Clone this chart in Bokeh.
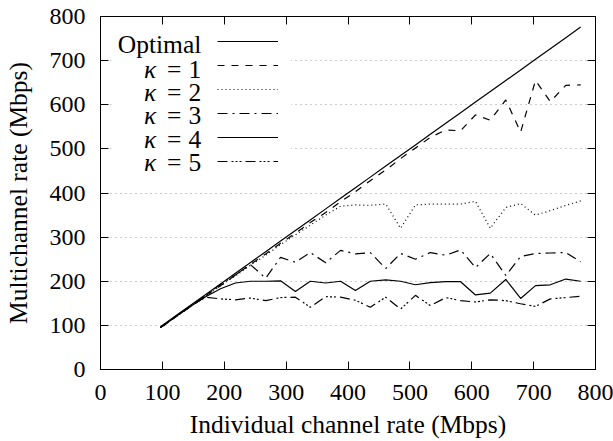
from bokeh.plotting import figure
from bokeh.models import (LinearAxis, FixedTicker, Legend, LegendItem, Label,
                          BoxAnnotation, Range1d)
from bokeh.embed import file_html
from bokeh.resources import INLINE

# ---------------- data ----------------
rate = [97, 121, 145, 170, 194, 218, 242, 267, 291, 315, 339, 364, 388, 412, 436,
        461, 485, 509, 533, 558, 582, 606, 630, 655, 679, 703, 727, 752, 776]
optimal = [97, 121, 145, 170, 194, 218, 242, 267, 291, 315, 339, 364, 388, 412, 436,
           461, 485, 509, 533, 558, 582, 606, 630, 655, 679, 703, 727, 752, 776]
kappa1 = [95, 119, 142, 167, 190, 214, 238, 262, 286, 309, 333, 356, 380, 403, 428,
          452, 478, 502, 526, 543, 541, 577, 565, 611, 538, 655, 607, 644, 645]
kappa2 = [95, 119, 142, 166, 190, 212, 236, 259, 283, 305, 327, 350, 370, 373, 372,
          375, 320, 373, 375, 375, 375, 381, 320, 367, 376, 350, 360, 372, 382]
kappa3 = [95, 119, 143, 168, 193, 214, 238, 207, 254, 243, 265, 242, 270, 262, 265,
          229, 263, 250, 265, 259, 271, 231, 263, 213, 256, 263, 264, 265, 244]
kappa4 = [95, 119, 143, 165, 183, 196, 200, 200, 201, 177, 200, 196, 200, 179, 200,
          203, 200, 192, 197, 199, 199, 169, 173, 204, 161, 190, 192, 205, 200]
kappa5 = [95, 119, 143, 164, 160, 158, 162, 156, 163, 164, 141, 165, 164, 157, 141,
          164, 137, 168, 145, 163, 156, 153, 158, 156, 149, 143, 160, 163, 166]

series_names = ["Optimal", "1", "2", "3", "4", "5"]
series_values = [optimal, kappa1, kappa2, kappa3, kappa4, kappa5]
dashes = ["solid", "7 7", "1 3", "10 5 2 5", "solid", "10 4 2 2 2 2 2 4"]

ticks = [0, 100, 200, 300, 400, 500, 600, 700, 800]

FONT = "Liberation Serif"

p = figure(width=613, height=441, output_backend="svg", toolbar_location=None,
           x_range=Range1d(0, 800), y_range=Range1d(0, 800),
           min_border_left=99, min_border_right=18, min_border_top=16,
           min_border_bottom=70)
p.background_fill_color = "white"
p.border_fill_color = "white"
p.outline_line_color = "black"
p.outline_line_width = 1

# grid
p.xgrid.visible = False
p.ygrid.ticker = FixedTicker(ticks=ticks[1:-1])
p.ygrid.grid_line_color = "#9a9a9a"
p.ygrid.grid_line_dash = "1 4"
p.ygrid.grid_line_width = 1

def style_axis(ax, labels=True):
    ax.ticker = FixedTicker(ticks=ticks)
    ax.major_tick_in = 8
    ax.major_tick_out = 0
    ax.minor_tick_line_color = None
    ax.axis_line_color = "black"
    ax.major_tick_line_color = "black"
    if labels:
        ax.major_label_text_font = FONT
        ax.major_label_text_font_size = "24px"
        ax.major_label_text_color = "black"
        ax.axis_label_text_font = FONT
        ax.axis_label_text_font_size = "25.5px"
        ax.axis_label_text_font_style = "normal"
        ax.axis_label_text_color = "black"
    else:
        ax.major_label_text_font_size = "0px"
        ax.major_label_text_color = None
        ax.major_label_standoff = 0

style_axis(p.xaxis[0])
style_axis(p.yaxis[0])
p.xaxis[0].axis_label = "Individual channel rate (Mbps)"
p.yaxis[0].axis_label = "Multichannel rate (Mbps)"
p.xaxis[0].major_label_standoff = 15
p.xaxis[0].axis_label_standoff = 7
p.yaxis[0].major_label_standoff = 15
p.yaxis[0].axis_label_standoff = 14

top_ax = LinearAxis()
right_ax = LinearAxis()
style_axis(top_ax, labels=False)
style_axis(right_ax, labels=False)
p.add_layout(top_ax, "above")
p.add_layout(right_ax, "right")

# lines
renderers = []
for vals, dash in zip(series_values, dashes):
    r = p.line(rate, vals, line_color="black", line_width=1.2, line_dash=dash)
    renderers.append(r)

# white legend box (gnuplot opaque key)
box = BoxAnnotation(left=18, right=308, top=772, bottom=436,
                    fill_color="white", fill_alpha=1.0, line_color=None,
                    level="annotation")
p.add_layout(box)

# legend samples (Bokeh legend, labels on the left drawn separately)
legend = Legend(items=[LegendItem(label=" ", renderers=[r]) for r in renderers],
                location=(117, 198), padding=0, margin=0, spacing=4,
                glyph_width=61, glyph_height=20, label_height=20,
                label_width=0, label_standoff=0,
                background_fill_alpha=0, border_line_color=None,
                label_text_font_size="10px")
p.add_layout(legend)

# legend texts, right-aligned like gnuplot's key
row_y = [736, 680, 627, 575, 522, 468]
for i, name in enumerate(series_names):
    p.add_layout(Label(x=163, y=row_y[i], text=name, text_align="right",
                       text_baseline="middle", text_font=FONT,
                       text_font_size="25.5px", text_color="black"))
    if i > 0:
        p.add_layout(Label(x=119, y=row_y[i], text="=", text_align="center",
                           text_baseline="middle", text_font=FONT,
                           text_font_size="25.5px", text_color="black"))
        p.add_layout(Label(x=80, y=row_y[i], text="κ", text_align="center",
                           text_baseline="middle", text_font=FONT,
                           text_font_size="25.5px", text_font_style="italic",
                           text_color="black"))

open("out.html", "w").write(file_html(p, INLINE))
